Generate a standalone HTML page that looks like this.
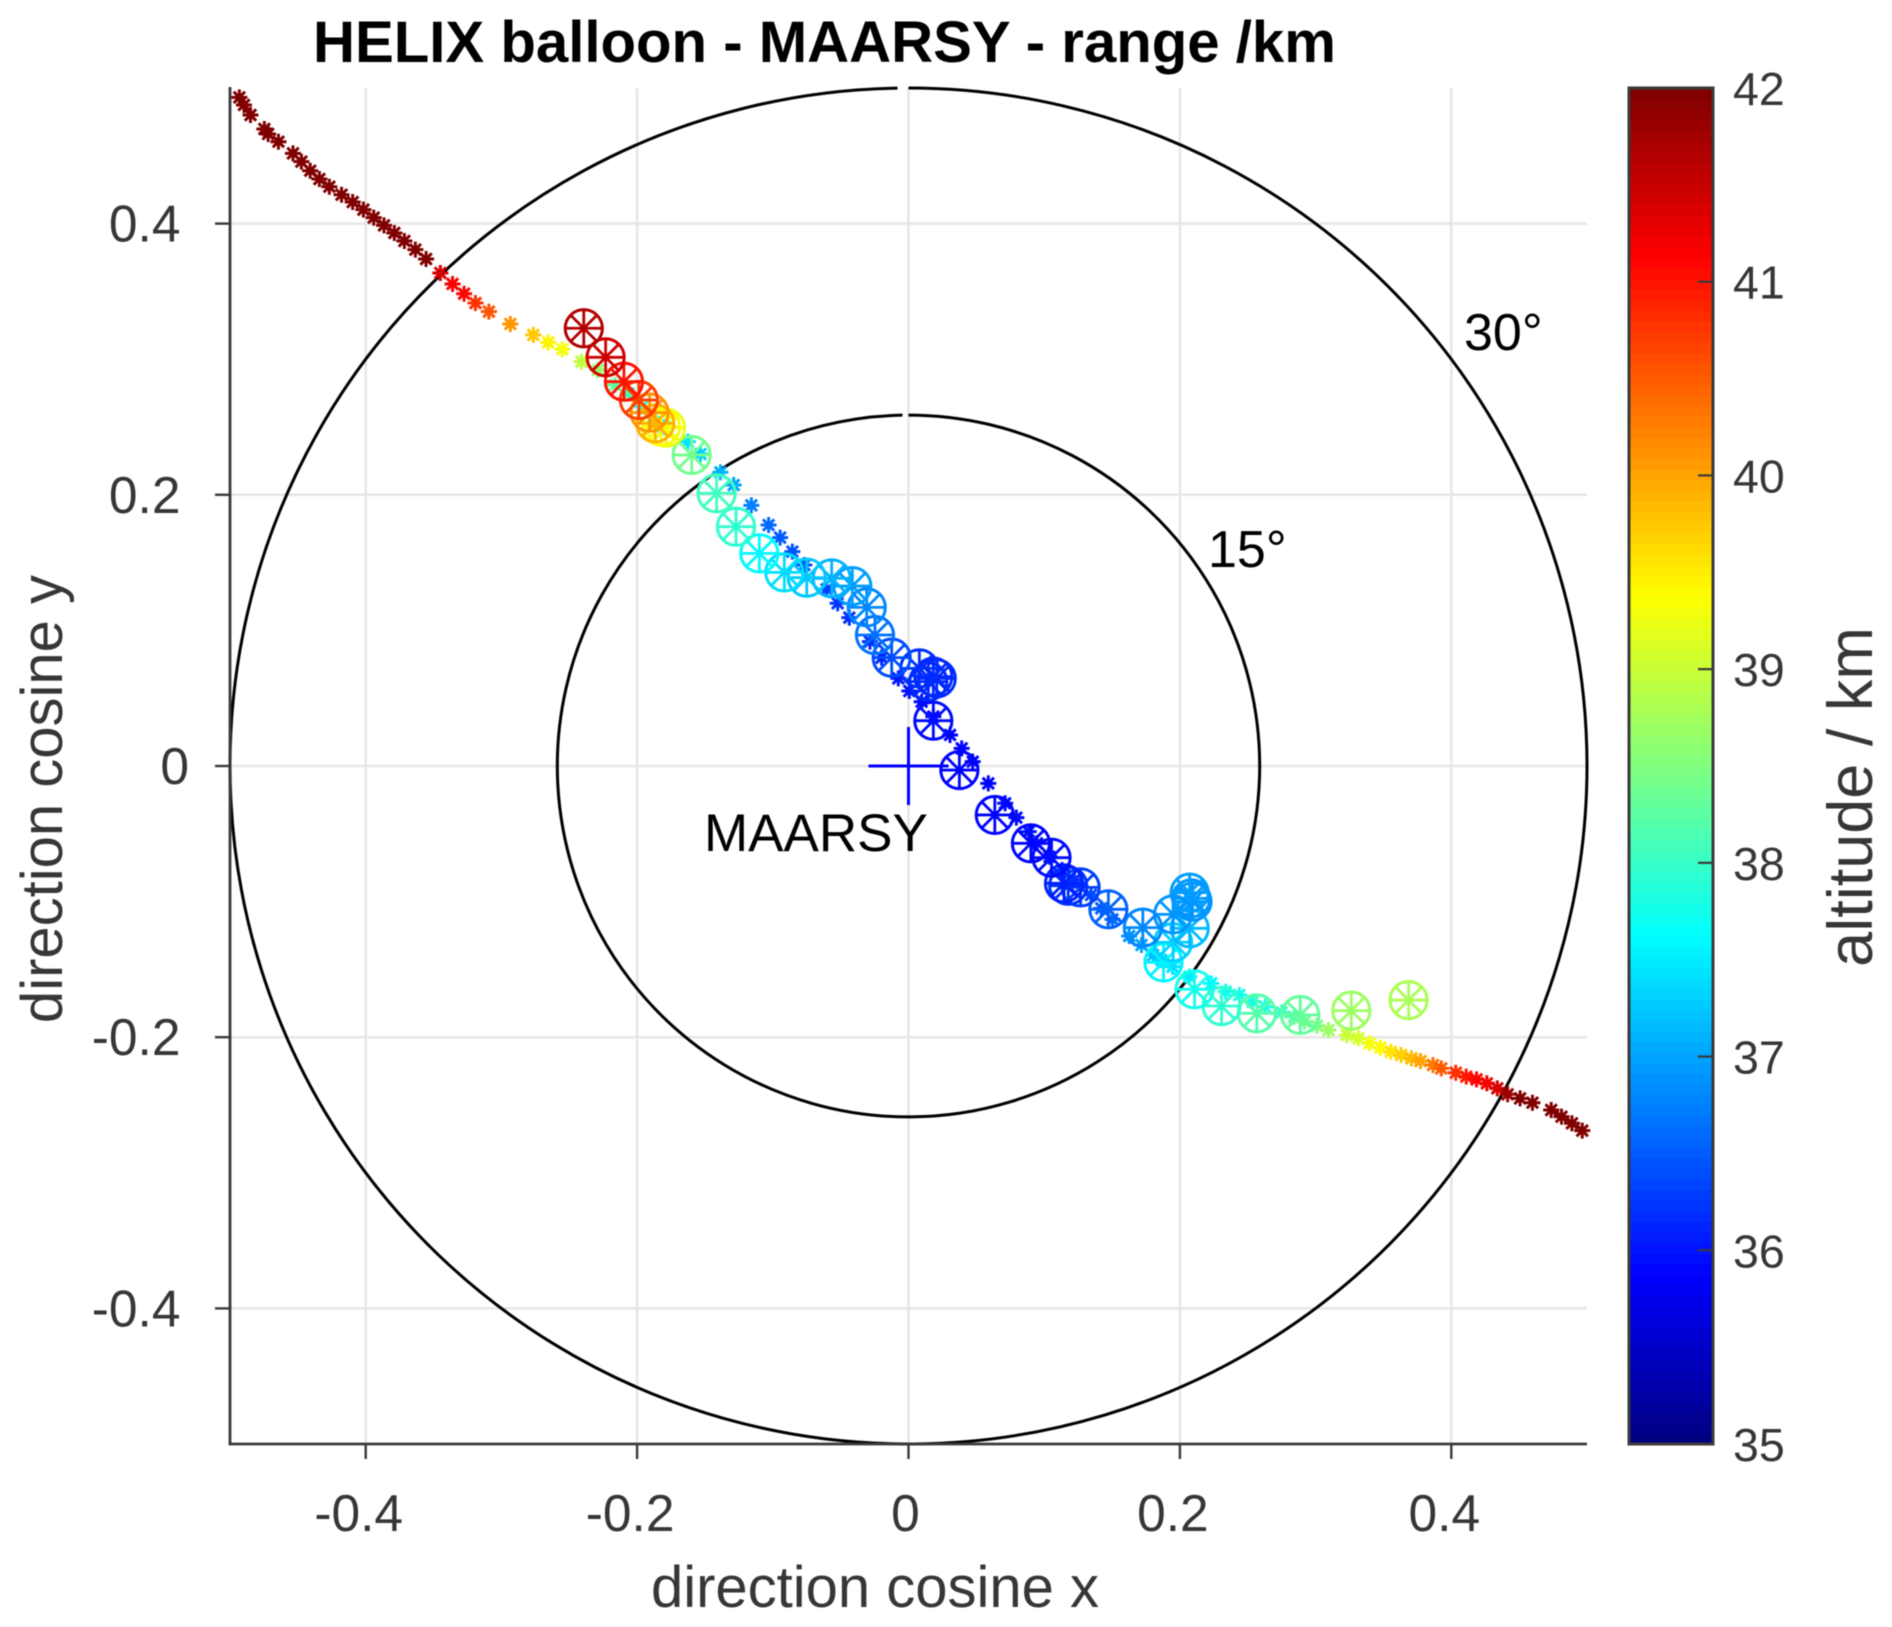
<!DOCTYPE html>
<html lang="en">
<head>
<meta charset="utf-8">
<title>HELIX balloon - MAARSY - range /km</title>
<style>
html,body{margin:0;padding:0;background:#fff;}
svg{display:block;filter:blur(0.55px);}
text{font-family:"Liberation Sans",Arial,sans-serif;}
</style>
</head>
<body>
<svg id="chart" xmlns="http://www.w3.org/2000/svg" width="1892" height="1627" viewBox="0 0 1892 1627">
  <rect x="0" y="0" width="1892" height="1627" fill="#fff"/>
  <g id="grid"></g>
  <g id="rings"></g>
  <g id="stars"></g>
  <g id="wheels"></g>
  <g id="axes"></g>
  <g id="cbar"></g>
  <text x="313" y="62" font-size="58.15" font-weight="700" fill="#000">HELIX balloon - MAARSY - range /km</text>
  <text x="875" y="1607" font-size="58" fill="#363636" text-anchor="middle">direction cosine x</text>
  <text transform="translate(62,799) rotate(-90)" font-size="58" fill="#363636" text-anchor="middle">direction cosine y</text>
  <text transform="translate(1872,797) rotate(-90)" font-size="63" fill="#363636" text-anchor="middle">altitude / km</text>
  <text x="1464" y="350" font-size="52" fill="#000">30°</text>
  <text x="1208" y="567" font-size="52" fill="#000">15°</text>
  <text x="704" y="851" font-size="53" fill="#000">MAARSY</text>
</svg>
<script>
// ---- chart data ----
const xTicks = [-0.4, -0.2, 0, 0.2, 0.4];
const yTicks = [-0.4, -0.2, 0, 0.2, 0.4];
const altTicks = [35, 36, 37, 38, 39, 40, 41, 42];
const circleDirCos = [0.2588, 0.5];

const trackX = [-.4931,-.4897,-.4849,-.4747,-.4719,-.4643,-.4536,-.4474,-.4409,-.4341,-.4268,-.4178,-.4096,-.4017,-.3941,-.3865,-.3789,-.3715,-.3634,-.3555,-.3450,-.3360,-.3275,-.3191,-.3092,-.2934,-.2765,-.2655,-.2551,-.2410,-.2289,-.2162,-.2063,-.1964,-.1887,-.1800,-.1626,-.1533,-.1386,-.1288,-.1158,-.1031,-.0946,-.0856,-.0768,-.0603,-.0522,-.0436,-.0284,-.0198,-.0075,.0006,.0097,.0183,.0306,.0392,.0473,.0588,.0712,.0795,.0886,.0947,.1039,.1131,.1222,.1345,.1421,.1503,.1626,.1717,.1803,.1864,.1946,.2069,.2231,.2338,.2438,.2536,.2628,.2750,.2842,.2918,.3010,.3095,.3230,.3315,.3398,.3477,.3554,.3630,.3706,.3773,.3865,.3926,.4033,.4110,.4186,.4262,.4339,.4415,.4507,.4598,.4736,.4812,.4889,.4965];
const trackY = [.4931,.4875,.4801,.4698,.4661,.4604,.4518,.4457,.4390,.4329,.4272,.4213,.4159,.4103,.4044,.3987,.3931,.3872,.3808,.3739,.3636,.3555,.3483,.3414,.3351,.3260,.3179,.3124,.3073,.2982,.2920,.2810,.2748,.2650,.2570,.2500,.2392,.2301,.2166,.2072,.1922,.1777,.1684,.1581,.1482,.1303,.1200,.1094,.0917,.0799,.0646,.0553,.0474,.0364,.0229,.0130,.0032,-.0128,-.0275,-.0381,-.0484,-.0570,-.0669,-.0767,-.0841,-.0951,-.1050,-.1131,-.1254,-.1320,-.1394,-.1431,-.1480,-.1554,-.1603,-.1664,-.1689,-.1738,-.1775,-.1817,-.1849,-.1885,-.1917,-.1947,-.1984,-.2008,-.2045,-.2077,-.2107,-.2131,-.2156,-.2176,-.2205,-.2230,-.2262,-.2291,-.2311,-.2340,-.2377,-.2421,-.2451,-.2483,-.2537,-.2586,-.2635,-.2689];
const trackAlt = [42,42,42,42,42,42,42,42,42,42,42,42,42,42,42,42,42,42,42,42,41.4,41.15,41.1,40.8,40.55,40.1,39.75,39.45,39.3,38.95,38.65,38.3,38.1,37.9,37.7,37.6,37.45,37.3,37.1,37.0,36.75,36.6,36.5,36.45,36.4,36.3,36.25,36.2,36.15,36.1,36.05,36,35.95,35.9,35.9,35.9,35.9,35.9,35.95,35.95,36,36,36.05,36.1,36.2,36.4,36.5,36.6,36.9,37,37.2,37.3,37.4,37.5,37.6,37.7,37.75,37.8,37.85,38,38.2,38.4,38.5,38.7,39,39.1,39.3,39.4,39.55,39.7,39.85,40,40.3,40.5,40.8,40.95,41.1,41.2,41.4,41.8,42,42,42,42,42,42];

const rangeX = [-.2393,-.2232,-.2097,-.1987,-.1908,-.1866,-.1823,-.1787,-.1598,-.1414,-.1271,-.1099,-.0915,-.0750,-.0566,-.0414,-.0308,-.0247,-.0124,.0080,.0146,.0183,.0208,.0183,.0375,.0636,.0902,.1054,.1146,.1177,.1268,.1473,.1727,.1950,.2072,.2084,.2093,.2072,.1950,.1879,.2108,.2307,.2567,.2887,.3263,.3685];
const rangeY = [.3228,.3014,.2834,.2699,.2606,.2527,.2503,.2495,.2294,.2011,.1765,.1568,.1428,.1389,.1384,.1327,.1170,.0966,.0799,.0720,.0622,.0659,.0646,.0334,-.0030,-.0361,-.0570,-.0676,-.0865,-.0883,-.0895,-.1057,-.1192,-.1094,-.0934,-.0976,-.1000,-.1197,-.1300,-.1448,-.1647,-.1770,-.1824,-.1836,-.1804,-.1726];
const rangeAlt = [41.65,41.45,41,40.7,40.1,39.9,39.4,39.2,38.4,38.05,37.95,37.6,37.4,37.25,37.1,36.95,36.8,36.65,36.4,36.2,36.15,36.15,36.15,35.95,35.9,35.9,35.9,35.95,36.1,36.2,36.3,36.55,36.8,36.9,36.95,36.9,36.9,37.15,37.3,37.55,37.75,37.95,38.2,38.3,38.7,38.8];

// ---- scales ----
const SVGNS = 'http://www.w3.org/2000/svg';
const plotL = 230, plotR = 1587, plotT = 88, plotB = 1444;
const cbL = 1629, cbR = 1713;
const altMin = 35, altMax = 42;
function sx(v){ return plotL + (v + 0.5) * (plotR - plotL); }
function sy(v){ return plotB - (v + 0.5) * (plotB - plotT); }
function sa(v){ return plotB - (v - altMin) / (altMax - altMin) * (plotB - plotT); }
function jet(t){
  t = Math.max(0, Math.min(1, t));
  const ramp = function(c){ return Math.max(0, Math.min(1, 1.5 - Math.abs(4 * t - c))); };
  const r = Math.round(255 * ramp(3));
  const g = Math.round(255 * ramp(2));
  const b = Math.round(255 * ramp(1));
  return 'rgb(' + r + ',' + g + ',' + b + ')';
}
function altColor(a){ return jet((a - altMin) / (altMax - altMin)); }
function mk(tag, parent){
  const el = document.createElementNS(SVGNS, tag);
  parent.appendChild(el);
  return el;
}
function line(parent, x1, y1, x2, y2, color, w){
  const l = mk('line', parent);
  l.setAttribute('x1', x1);
  l.setAttribute('y1', y1);
  l.setAttribute('x2', x2);
  l.setAttribute('y2', y2);
  l.setAttribute('stroke', color);
  l.setAttribute('stroke-width', w);
  return l;
}
function spokes(parent, cx, cy, r, color, w){
  const d = r * Math.SQRT1_2;
  const p = mk('path', parent);
  p.setAttribute('d',
    'M' + (cx - r) + ' ' + cy + 'H' + (cx + r) +
    'M' + cx + ' ' + (cy - r) + 'V' + (cy + r) +
    'M' + (cx - d) + ' ' + (cy - d) + 'L' + (cx + d) + ' ' + (cy + d) +
    'M' + (cx - d) + ' ' + (cy + d) + 'L' + (cx + d) + ' ' + (cy - d));
  p.setAttribute('stroke', color);
  p.setAttribute('stroke-width', w);
  p.setAttribute('fill', 'none');
  return p;
}

// ---- grid ----
const gridG = document.getElementById('grid');
xTicks.forEach(function(t){
  const g = line(gridG, sx(t), plotT, sx(t), plotB, '#e6e6e6', 2.5);
  
  
});
yTicks.forEach(function(t){
  const g = line(gridG, plotL, sy(t), plotR, sy(t), '#e6e6e6', 2.5);
  
  
});

// ---- elevation circles (small gap just left of the top, as in the source) ----
const ringG = document.getElementById('rings');
circleDirCos.forEach(function(c){
  const rx = c * (plotR - plotL), ry = c * (plotB - plotT);
  const cx = sx(0), cy = sy(0);
  const gap = c > 0.4 ? 11 : 6;
  const endX = cx - gap;
  const endY = cy - ry * Math.sqrt(1 - (gap * gap) / (rx * rx));
  const arc = mk('path', ringG);
  arc.setAttribute('d', 'M' + cx + ' ' + (cy - ry) + 'A' + rx + ' ' + ry + ' 0 1 1 ' + endX + ' ' + endY);
  arc.setAttribute('fill', 'none');
  arc.setAttribute('stroke', '#000');
  arc.setAttribute('stroke-width', 3);
  
  
});

// ---- track asterisks ----
const starG = document.getElementById('stars');
trackX.forEach(function(x, i){
  const s = spokes(starG, sx(x), sy(trackY[i]), 8, altColor(trackAlt[i]), 3);
  
  
});

// ---- range wheels (drawn last-to-first so the upper-left ones sit on top) ----
const wheelG = document.getElementById('wheels');
for (let i = rangeX.length - 1; i >= 0; i--) {
  const col = altColor(rangeAlt[i]);
  const g = mk('g', wheelG);
  
  
  const cx = sx(rangeX[i]), cy = sy(rangeY[i]);
  const c = mk('circle', g);
  c.setAttribute('cx', cx);
  c.setAttribute('cy', cy);
  c.setAttribute('r', 18.6);
  c.setAttribute('fill', 'none');
  c.setAttribute('stroke', col);
  c.setAttribute('stroke-width', 3);
  spokes(g, cx, cy, 18.6, col, 2.8);
}

// ---- MAARSY cross ----
const crossG = mk('g', document.getElementById('axes'));


line(crossG, sx(0) - 40, sy(0), sx(0) + 40, sy(0), '#0000ff', 3);
line(crossG, sx(0), sy(0) - 39, sx(0), sy(0) + 39, '#0000ff', 3);

// ---- axes ----
const axG = document.getElementById('axes');
const axisCol = '#3a3a3a';
const axL = line(axG, plotL, plotT - 1, plotL, plotB + 1.2, axisCol, 2.8);


const axB = line(axG, plotL - 1.2, plotB, plotR, plotB, axisCol, 2.8);


function label(str, x, y, size, anchor){
  const t = mk('text', axG);
  t.setAttribute('x', x);
  t.setAttribute('y', y);
  t.setAttribute('font-size', size);
  t.setAttribute('fill', '#363636');
  t.setAttribute('text-anchor', anchor);
  t.textContent = str;
  return t;
}
xTicks.forEach(function(t){
  const m = line(axG, sx(t), plotB, sx(t), plotB + 15, axisCol, 2.4);
  
  
  const lb = label(String(t), sx(t) - (t === 0 ? 3 : 7), 1531, 51.5, 'middle');
  
  
});
yTicks.forEach(function(t){
  const m = line(axG, plotL - 15, sy(t), plotL, sy(t), axisCol, 2.4);
  
  
  const lb = label(String(t), t === 0 ? 189 : 180.5, sy(t) + 18, 51.5, 'end');
  
  
});

// ---- colorbar ----
const cbG = document.getElementById('cbar');
const levels = 128;
for (let i = 0; i < levels; i++) {
  const h = (plotB - plotT) / levels;
  const r = mk('rect', cbG);
  r.setAttribute('x', cbL);
  r.setAttribute('y', plotB - (i + 1) * h);
  r.setAttribute('width', cbR - cbL);
  r.setAttribute('height', h + 0.6);
  r.setAttribute('fill', jet((i + 0.5) / levels));
  
  
}
const cbFrame = mk('rect', cbG);
cbFrame.setAttribute('x', cbL);
cbFrame.setAttribute('y', plotT);
cbFrame.setAttribute('width', cbR - cbL);
cbFrame.setAttribute('height', plotB - plotT);
cbFrame.setAttribute('fill', 'none');
cbFrame.setAttribute('stroke', axisCol);
cbFrame.setAttribute('stroke-width', 3);


altTicks.forEach(function(a){
  if (a !== altMin && a !== altMax) {
    const m = line(cbG, cbR - 15, sa(a), cbR, sa(a), axisCol, 2.2);
    
    
  }
  const lb = mk('text', cbG);
  lb.setAttribute('x', 1733);
  lb.setAttribute('y', sa(a) + 17);
  lb.setAttribute('font-size', 46.5);
  lb.setAttribute('fill', '#363636');
  lb.textContent = String(a);
  
  
});
</script>
</body>
</html>
